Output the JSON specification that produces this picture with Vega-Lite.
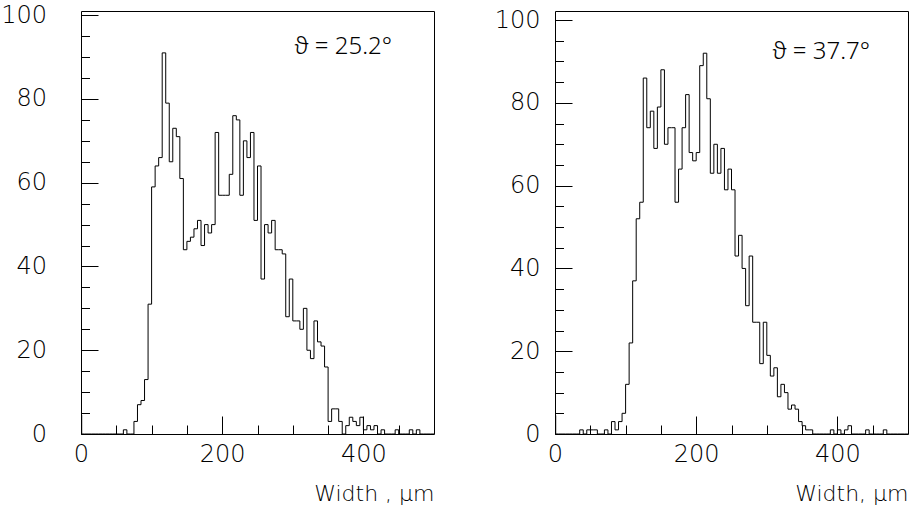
{
  "$schema": "https://vega.github.io/schema/vega-lite/v6.json",
  "autosize": {"type": "pad"},
  "padding": {"left": 0, "top": 2, "right": 0, "bottom": 0},
  "background": "white",
  "config": {
    "view": {"stroke": "black", "strokeWidth": 1},
    "font": "DejaVu Sans",
    "axis": {
      "domain": false,
      "grid": false,
      "tickColor": "black",
      "tickWidth": 1,
      "labelColor": "black",
      "labelFont": "DejaVu Sans",
      "labelFontWeight": 200,
      "labelFontSize": 24,
      "titleFont": "DejaVu Sans",
      "titleFontWeight": 200,
      "titleFontSize": 22,
      "titleColor": "black"
    },
    "title": {"font": "Noto Sans", "fontWeight": 300, "fontSize": 24, "color": "black"}
  },
  "datasets": {
    "left": [
      {"w": 0, "n": 4.5}, {"w": 1, "n": 0},
      {"w": 5, "n": 0}, {"w": 10, "n": 0}, {"w": 15, "n": 0}, {"w": 20, "n": 0}, {"w": 25, "n": 0},
      {"w": 30, "n": 0}, {"w": 35, "n": 0}, {"w": 40, "n": 0}, {"w": 45, "n": 0}, {"w": 50, "n": 0},
      {"w": 55, "n": 0}, {"w": 60, "n": 1}, {"w": 65, "n": 0}, {"w": 70, "n": 0}, {"w": 75, "n": 3},
      {"w": 80, "n": 7}, {"w": 85, "n": 8}, {"w": 90, "n": 13}, {"w": 95, "n": 31}, {"w": 100, "n": 59},
      {"w": 105, "n": 64}, {"w": 110, "n": 66}, {"w": 115, "n": 91}, {"w": 120, "n": 79}, {"w": 125, "n": 65},
      {"w": 130, "n": 73}, {"w": 135, "n": 71}, {"w": 140, "n": 61}, {"w": 145, "n": 44}, {"w": 150, "n": 46},
      {"w": 155, "n": 47}, {"w": 160, "n": 49}, {"w": 165, "n": 51}, {"w": 170, "n": 45}, {"w": 175, "n": 50},
      {"w": 180, "n": 48}, {"w": 185, "n": 50}, {"w": 190, "n": 72}, {"w": 195, "n": 57}, {"w": 200, "n": 57},
      {"w": 205, "n": 57}, {"w": 210, "n": 62}, {"w": 215, "n": 76}, {"w": 220, "n": 75}, {"w": 225, "n": 57},
      {"w": 230, "n": 70}, {"w": 235, "n": 66}, {"w": 240, "n": 72}, {"w": 245, "n": 51}, {"w": 250, "n": 64},
      {"w": 255, "n": 37}, {"w": 260, "n": 50}, {"w": 265, "n": 48}, {"w": 270, "n": 51}, {"w": 275, "n": 44},
      {"w": 280, "n": 44}, {"w": 285, "n": 43}, {"w": 290, "n": 28}, {"w": 295, "n": 37}, {"w": 300, "n": 27},
      {"w": 305, "n": 27}, {"w": 310, "n": 25}, {"w": 315, "n": 30}, {"w": 320, "n": 20}, {"w": 325, "n": 18},
      {"w": 330, "n": 27}, {"w": 335, "n": 22}, {"w": 340, "n": 21}, {"w": 345, "n": 16}, {"w": 350, "n": 3},
      {"w": 355, "n": 6}, {"w": 360, "n": 6}, {"w": 365, "n": 3}, {"w": 370, "n": 0}, {"w": 375, "n": 2},
      {"w": 380, "n": 4}, {"w": 385, "n": 3}, {"w": 390, "n": 2}, {"w": 395, "n": 4}, {"w": 400, "n": 1},
      {"w": 405, "n": 2}, {"w": 410, "n": 1}, {"w": 415, "n": 2}, {"w": 420, "n": 0}, {"w": 425, "n": 1},
      {"w": 430, "n": 0}, {"w": 435, "n": 0}, {"w": 440, "n": 0}, {"w": 445, "n": 1}, {"w": 450, "n": 0},
      {"w": 455, "n": 0}, {"w": 460, "n": 0}, {"w": 465, "n": 1}, {"w": 470, "n": 0}, {"w": 475, "n": 1},
      {"w": 480, "n": 0}, {"w": 485, "n": 0}, {"w": 490, "n": 0}, {"w": 495, "n": 0}, {"w": 500, "n": 0}
    ],
    "right": [
      {"w": 0, "n": 4.5}, {"w": 1, "n": 0},
      {"w": 5, "n": 0}, {"w": 10, "n": 0}, {"w": 15, "n": 0}, {"w": 20, "n": 0}, {"w": 25, "n": 0},
      {"w": 30, "n": 0}, {"w": 35, "n": 1}, {"w": 40, "n": 0}, {"w": 45, "n": 1}, {"w": 50, "n": 1},
      {"w": 55, "n": 1}, {"w": 60, "n": 0}, {"w": 65, "n": 0}, {"w": 70, "n": 1}, {"w": 75, "n": 0},
      {"w": 80, "n": 3}, {"w": 85, "n": 1}, {"w": 90, "n": 3}, {"w": 95, "n": 5}, {"w": 100, "n": 12},
      {"w": 105, "n": 22}, {"w": 110, "n": 37}, {"w": 115, "n": 52}, {"w": 120, "n": 56}, {"w": 125, "n": 86},
      {"w": 130, "n": 74}, {"w": 135, "n": 78}, {"w": 140, "n": 69}, {"w": 145, "n": 79}, {"w": 150, "n": 88},
      {"w": 155, "n": 70}, {"w": 160, "n": 74}, {"w": 165, "n": 74}, {"w": 170, "n": 56}, {"w": 175, "n": 64},
      {"w": 180, "n": 74}, {"w": 185, "n": 82}, {"w": 190, "n": 68}, {"w": 195, "n": 66}, {"w": 200, "n": 68},
      {"w": 205, "n": 89}, {"w": 210, "n": 92}, {"w": 215, "n": 81}, {"w": 220, "n": 63}, {"w": 225, "n": 70},
      {"w": 230, "n": 63}, {"w": 235, "n": 69}, {"w": 240, "n": 59}, {"w": 245, "n": 64}, {"w": 250, "n": 59},
      {"w": 255, "n": 43}, {"w": 260, "n": 48}, {"w": 265, "n": 40}, {"w": 270, "n": 31}, {"w": 275, "n": 43},
      {"w": 280, "n": 27}, {"w": 285, "n": 27}, {"w": 290, "n": 17}, {"w": 295, "n": 27}, {"w": 300, "n": 19},
      {"w": 305, "n": 14}, {"w": 310, "n": 16}, {"w": 315, "n": 9}, {"w": 320, "n": 12}, {"w": 325, "n": 10},
      {"w": 330, "n": 6}, {"w": 335, "n": 7}, {"w": 340, "n": 6}, {"w": 345, "n": 3}, {"w": 350, "n": 2},
      {"w": 355, "n": 1}, {"w": 360, "n": 1}, {"w": 365, "n": 0}, {"w": 370, "n": 0}, {"w": 375, "n": 0},
      {"w": 380, "n": 0}, {"w": 385, "n": 0}, {"w": 390, "n": 1}, {"w": 395, "n": 0}, {"w": 400, "n": 1},
      {"w": 405, "n": 0}, {"w": 410, "n": 1}, {"w": 415, "n": 2}, {"w": 420, "n": 0}, {"w": 425, "n": 0},
      {"w": 430, "n": 0}, {"w": 435, "n": 0}, {"w": 440, "n": 1}, {"w": 445, "n": 0}, {"w": 450, "n": 0},
      {"w": 455, "n": 0}, {"w": 460, "n": 0}, {"w": 465, "n": 1}, {"w": 470, "n": 0}, {"w": 475, "n": 0},
      {"w": 480, "n": 0}, {"w": 485, "n": 0}, {"w": 490, "n": 0}, {"w": 495, "n": 0}, {"w": 500, "n": 0}
    ]
  },
  "hconcat": [
    {
      "data": {"name": "left"},
      "width": 353,
      "height": 423,
      "title": {"text": "ϑ = 25.2°", "anchor": "end", "orient": "top", "frame": "group", "offset": -68, "baseline": "middle", "dx": -42},
      "mark": {"type": "line", "interpolate": "step-after", "color": "black", "strokeWidth": 1},
      "encoding": {
        "x": {
          "field": "w", "type": "quantitative",
          "scale": {"domain": [0, 500], "nice": false, "zero": false},
          "axis": {
            "title": "Width , μm", "titleAnchor": "end", "titleAlign": "right", "titlePadding": 17,
            "values": [0, 50, 100, 150, 200, 250, 300, 350, 400, 450],
            "labelExpr": "datum.value % 200 === 0 ? datum.label : ''",
            "tickSize": {"condition": {"test": "datum.value % 200 === 0", "value": -18}, "value": -9},
            "labelPadding": 26, "labelFlush": false
          }
        },
        "y": {
          "field": "n", "type": "quantitative",
          "scale": {"domain": [0, 101], "nice": false},
          "axis": {
            "title": null,
            "values": [0, 5, 10, 15, 20, 25, 30, 35, 40, 45, 50, 55, 60, 65, 70, 75, 80, 85, 90, 95, 100],
            "labelExpr": "datum.value % 20 === 0 ? datum.label : ''",
            "tickSize": {"condition": {"test": "datum.value % 20 === 0", "value": -17}, "value": -8.5},
            "labelPadding": 51.5, "labelFlush": false
          }
        }
      }
    },
    {
      "data": {"name": "right"},
      "width": 353,
      "height": 423,
      "title": {"text": "ϑ = 37.7°", "anchor": "end", "orient": "top", "frame": "group", "offset": -68, "baseline": "middle", "dx": -38},
      "mark": {"type": "line", "interpolate": "step-after", "color": "black", "strokeWidth": 1},
      "encoding": {
        "x": {
          "field": "w", "type": "quantitative",
          "scale": {"domain": [0, 500], "nice": false, "zero": false},
          "axis": {
            "title": "Width, μm", "titleAnchor": "end", "titleAlign": "right", "titlePadding": 17,
            "values": [0, 50, 100, 150, 200, 250, 300, 350, 400, 450],
            "labelExpr": "datum.value % 200 === 0 ? datum.label : ''",
            "tickSize": {"condition": {"test": "datum.value % 200 === 0", "value": -18}, "value": -9},
            "labelPadding": 26, "labelFlush": false
          }
        },
        "y": {
          "field": "n", "type": "quantitative",
          "scale": {"domain": [0, 102.2], "nice": false},
          "axis": {
            "title": null,
            "values": [0, 5, 10, 15, 20, 25, 30, 35, 40, 45, 50, 55, 60, 65, 70, 75, 80, 85, 90, 95, 100],
            "labelExpr": "datum.value % 20 === 0 ? datum.label : ''",
            "tickSize": {"condition": {"test": "datum.value % 20 === 0", "value": -17}, "value": -8.5},
            "labelPadding": 32, "labelFlush": false
          }
        }
      }
    }
  ],
  "spacing": 121,
  "bounds": "flush"
}
